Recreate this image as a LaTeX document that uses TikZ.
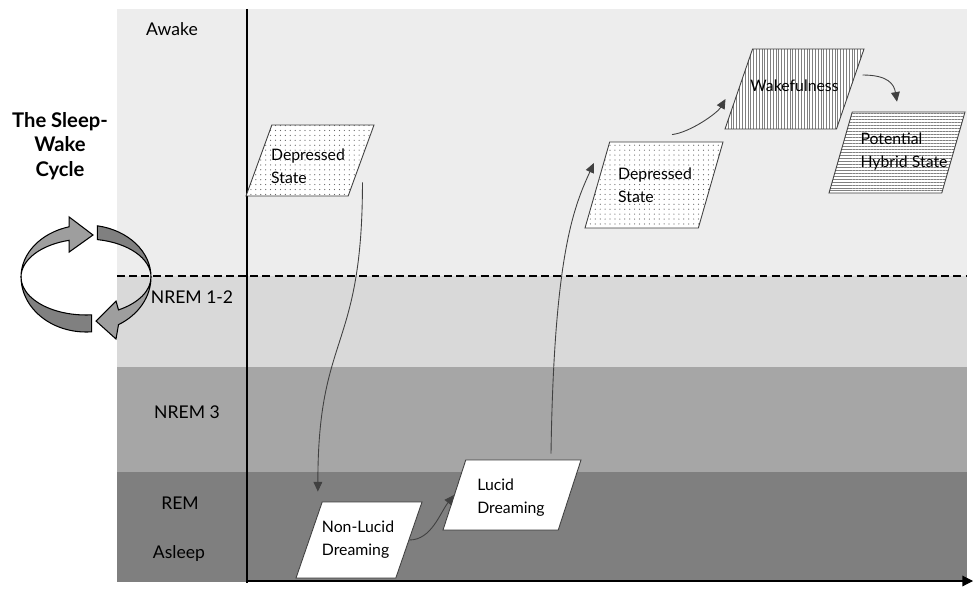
\documentclass[tikz,border=0pt]{standalone}
\usepackage{fontspec}
\setmainfont{Lato}
\usetikzlibrary{arrows.meta,shapes.geometric,patterns.meta,calc}
\definecolor{awakegray}{HTML}{EDEDED}
\definecolor{lightgray}{HTML}{D9D9D9}
\definecolor{midgray}{HTML}{A6A6A6}
\definecolor{darkgray}{HTML}{7F7F7F}
\tikzset{
  state/.style={shape=trapezium, trapezium stretches body, draw=black!75, line width=0.5pt, inner xsep=0pt},
  kdream/.style={state, fill=white},
  kdepressed/.style={state, preaction={fill=white}, pattern={Dots[distance=2.8pt, radius=0.35pt]}, pattern color=black!60},
  kwake/.style={state, preaction={fill=white}, pattern={Lines[angle=90, distance=1.6pt, line width=0.3pt]}, pattern color=black!50},
  khybrid/.style={state, preaction={fill=white}, pattern={Lines[angle=0, distance=1.7pt, line width=0.3pt]}, pattern color=black!50},
  stext/.style={font=\fontsize{9}{13}\selectfont, align=left, inner sep=0pt},
  band/.style={font=\fontsize{10}{12}\selectfont},
  conn/.style={-{Triangle[length=5.5pt, width=5pt]}, draw=black!75, line width=0.5pt},
  ribbon/.style={draw=black, line width=0.6pt},
}

\begin{document}
\begin{tikzpicture}[x=0.02cm, y=-0.02cm]
  \useasboundingbox (0,0) rectangle (973,588);
  % sleep stage bands
  \fill[awakegray] (117,9) rectangle (967,276);
  \fill[lightgray] (117,276) rectangle (967,367);
  \fill[midgray] (117,367) rectangle (967,472);
  \fill[darkgray] (117,472) rectangle (967,582);

  \node[band] (awake) at (172,29) {Awake};
  \node[band] (nrema) at (192,297) {NREM 1-2};
  \node[band] (nremb) at (187,412) {NREM 3};
  \node[band] (rem) at (180,503) {REM};
  \node[band] (asleep) at (179,554) {Asleep};

  \node[font=\bfseries\fontsize{11.5}{14}\selectfont, align=center] (title) at (60,146) {The Sleep-\\Wake\\Cycle};

  % cycle arrows
  \begin{scope}[shift={(86,277)}]
    \filldraw[ribbon, fill=black!38] (-65,0) arc[start angle=180, end angle=255, x radius=65, y radius=52]
      -- (-16.8,-60) -- (7,-42) -- (-16.8,-25) -- (-16.8,-36.7)
      arc[start angle=255, end angle=180, x radius=65, y radius=38] -- cycle;
    \filldraw[ribbon, fill=black!50] (-65,0) arc[start angle=180, end angle=85, x radius=65, y radius=38]
      -- (5.7,54.8) arc[start angle=85, end angle=180, x radius=65, y radius=55] -- cycle;
    \filldraw[ribbon, fill=black!50] (11.3,-51.2) arc[start angle=280, end angle=360, x radius=65, y radius=52]
      arc[start angle=360, end angle=280, x radius=65, y radius=38] -- cycle;
    \filldraw[ribbon, fill=black!38] (65,0) arc[start angle=0, end angle=60, x radius=65, y radius=55]
      -- (30,62) -- (10,44) -- (30,24) -- (32.5,32.9)
      arc[start angle=60, end angle=0, x radius=65, y radius=38] -- cycle;
  \end{scope}

  \draw[line width=1.1pt, dash pattern=on 4.5pt off 2.4pt] (117,276) -- (967,276);
  % axes
  \draw[line width=0.6pt] (247,9) -- (247,583);
  \draw[line width=0.6pt, -{Triangle[length=6pt, width=6pt]}] (247,581) -- (973,581);

  % states
  \node[kdepressed, minimum width=2.56cm, inner ysep=0.71cm, trapezium left angle=70, trapezium right angle=110] (depfirst) at (310,160.5) {};
  \node[kdepressed, minimum width=2.76cm, inner ysep=0.86cm, trapezium left angle=74, trapezium right angle=106] (depsecond) at (654,185) {};
  \node[kwake, minimum width=2.78cm, inner ysep=0.8cm, trapezium left angle=71, trapezium right angle=109] (wake) at (794.5,89) {};
  \node[khybrid, minimum width=2.72cm, inner ysep=0.81cm, trapezium left angle=74, trapezium right angle=106] (hybrid) at (897,152.5) {};
  \node[kdream, minimum width=2.52cm, inner ysep=0.76cm, trapezium left angle=71, trapezium right angle=109] (nonlucid) at (359,540) {};
  \node[kdream, minimum width=2.76cm, inner ysep=0.7cm, trapezium left angle=72, trapezium right angle=108] (lucid) at (512,495) {};

  \node[stext] (depfirsttext) at ($(depfirst)+(-2,6)$) {Depressed\\State};
  \node[stext] (depsecondtext) at ($(depsecond)+(1,0)$) {Depressed\\State};
  \node[stext] (waketext) at ($(wake)+(0,-3)$) {Wakefulness};
  \node[stext] (hybridtext) at ($(hybrid)+(7,-1)$) {Potential\\Hybrid State};
  \node[stext] (nonlucidtext) at ($(nonlucid)+(-1,0)$) {Non-Lucid\\Dreaming};
  \node[stext] (lucidtext) at ($(lucid)+(-1,3)$) {Lucid\\Dreaming};

  % transitions
  \draw[conn] ($(depfirst.bottom right corner)+(14,-14)$) .. controls +(0,170) and +(0,-160) .. ($(nonlucid.top left corner)+(-4,-10)$);
  \draw[conn] (nonlucid.east) .. controls +(22,0) and +(-14,18) .. (lucid.west);
  \draw[conn] ($(lucid.north)+(39,-6)$) .. controls +(3,-200) and +(-20,44) .. ($(depsecond.west)+(-3,-22)$);
  \draw[conn] ($(depsecond.north)+(18,-7)$) .. controls +(18,-2) and +(-8,14) .. ($(wake.west)+(-13,10)$);
  \draw[conn] ($(wake.east)+(12,-14)$) .. controls +(25,0) and +(-3,-18) .. ($(hybrid.north)+(0,-10)$);
\end{tikzpicture}
\end{document}
